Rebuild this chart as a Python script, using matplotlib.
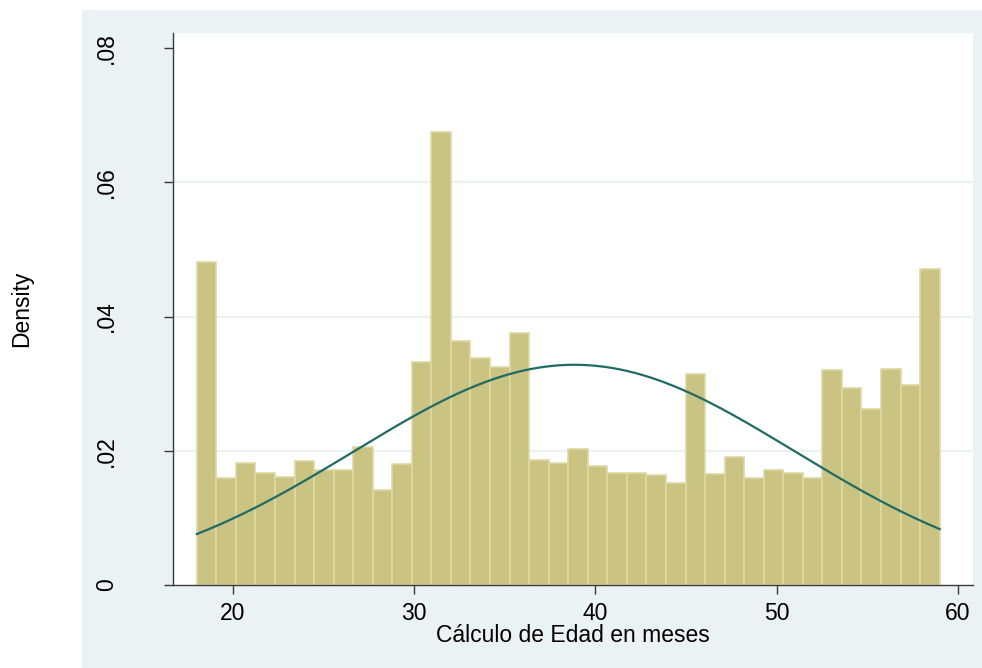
import numpy as np
import matplotlib
matplotlib.use("Agg")
import matplotlib.pyplot as plt
from matplotlib.patches import Rectangle

# Histogram of age in months: 38 equal-width bins from 18 to 59
bin_start = 18.0
bin_end = 59.0
n_bins = 38
density = [
    0.0482, 0.0159, 0.0181, 0.0166, 0.0160, 0.0185, 0.0171, 0.0171, 0.0206, 0.0142,
    0.0180, 0.0332, 0.0675, 0.0363, 0.0338, 0.0325, 0.0375, 0.0186, 0.0182, 0.0202,
    0.0177, 0.0166, 0.0166, 0.0164, 0.0151, 0.0314, 0.0165, 0.0190, 0.0159, 0.0171,
    0.0166, 0.0159, 0.0320, 0.0293, 0.0262, 0.0322, 0.0298, 0.0471,
]

# Normal density overlay parameters
norm_mean = 38.84
norm_sd = 12.16

x_ticks = [20, 30, 40, 50, 60]
y_ticks = [0, 0.02, 0.04, 0.06, 0.08]
y_tick_labels = ["0", ".02", ".04", ".06", ".08"]
x_title = "Cálculo de Edad en meses"
y_title = "Density"

plt.rcParams["font.family"] = ["Liberation Sans", "DejaVu Sans"]
FS = 16.5

W, H = 982, 668
fig = plt.figure(figsize=(W / 100, H / 100), dpi=100)
fig.patch.set_facecolor("white")

# Graph region background
bg = Rectangle((82 / W, 0), 1 - 82 / W, 1 - 10 / H, transform=fig.transFigure,
               facecolor="#EAF2F3", edgecolor="none", zorder=-10)
fig.patches.append(bg)

ax = fig.add_axes([172.7 / W, 1 - 584.7 / H, (973 - 172.7) / W, (584.7 - 33) / H])
ax.set_zorder(1)
ax.set_facecolor("white")

edges = np.linspace(bin_start, bin_end, n_bins + 1)
ax.bar(edges[:-1], density, width=np.diff(edges), align="edge",
       color="#CAC382", edgecolor="#DED8A6", linewidth=1.2, zorder=2)

xs = np.linspace(bin_start, bin_end, 400)
ys = np.exp(-0.5 * ((xs - norm_mean) / norm_sd) ** 2) / (norm_sd * np.sqrt(2 * np.pi))
ax.plot(xs, ys, color="#1F6B65", linewidth=1.6, zorder=3)

for g in y_ticks[1:-1]:
    ax.axhline(g, color="#EAF2F3", linewidth=1.6, zorder=1)

ax.set_xlim(16.67, 60.84)
ax.set_ylim(0, 0.0823)

for side in ("top", "right"):
    ax.spines[side].set_visible(False)
for side in ("left", "bottom"):
    ax.spines[side].set_color("#3A3A3A")
    ax.spines[side].set_linewidth(1.0)
    ax.spines[side].set_zorder(4)

ax.set_xticks(x_ticks)
ax.set_xticklabels([str(v) for v in x_ticks])
ax.set_yticks(y_ticks)
ax.set_yticklabels(y_tick_labels, rotation=90, va="center")
ax.tick_params(axis="both", direction="out", length=6.3, width=1.0, color="#3A3A3A",
               labelsize=FS, labelcolor="black")
ax.tick_params(axis="x", pad=6.5)
ax.tick_params(axis="y", pad=33)

fig.text(572.9 / W, 1 - 636 / H, x_title, ha="center", va="center", fontsize=FS)
fig.text(22 / W, 1 - 309 / H, y_title, ha="center", va="center", rotation=90, fontsize=FS)

fig.savefig("out.png", dpi=100)
